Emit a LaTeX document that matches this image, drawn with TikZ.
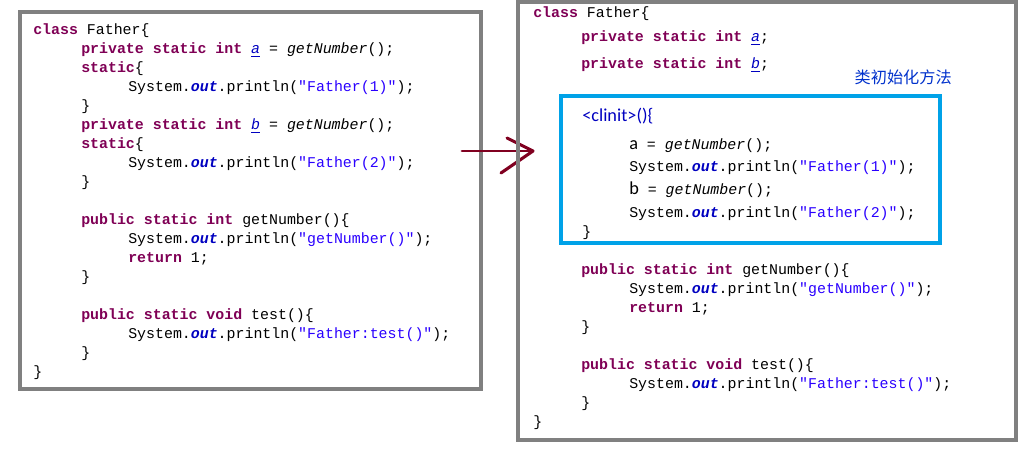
\documentclass[tikz,border=0pt]{standalone}
\usepackage{fontspec}
\setmonofont{Liberation Mono}
\setsansfont{Carlito}
\newfontfamily\cjk{Noto Sans CJK SC}
\usepackage{xcolor}
\definecolor{kwcol}{HTML}{7F0055}
\definecolor{strcol}{HTML}{2A00FF}
\definecolor{fldcol}{HTML}{0000C0}
\definecolor{boxgray}{HTML}{808080}
\definecolor{clblue}{HTML}{00A2E8}
\definecolor{arrowred}{HTML}{800020}
\newcommand{\kw}[1]{\textcolor{kwcol}{\textbf{#1}}}
\newcommand{\str}[1]{\textcolor{strcol}{#1}}
\newcommand{\fld}[1]{\textcolor{fldcol}{\textbf{\textit{#1}}}}
\newcommand{\var}[1]{\textcolor{fldcol}{\underline{\textit{#1}}}}
\newcommand{\mth}[1]{\textit{#1}}
\newcommand{\outln}[1]{System.\fld{out}.println(\str{"#1"});}
\tikzset{
  code/.style={anchor=base west, inner sep=0pt, font=\ttfamily\fontsize{10.6}{12}\selectfont},
  frame/.style={draw=boxgray, line width=2.2pt},
}
\begin{document}
\begin{tikzpicture}[x=0.025cm,y=-0.025cm]
  \useasboundingbox (0,0) rectangle (1033,457);
  % left: source
  \draw[frame] (20,12) rectangle (481,389);
  \node[code](l1) at (33,35) {\kw{class} Father\{};
  \node[code](l2) at (81,54) {\kw{private static int} \var{a} = \mth{getNumber}();};
  \node[code](l3) at (81,73) {\kw{static}\{};
  \node[code](l4) at (128,92) {\outln{Father(1)}};
  \node[code](l5) at (81,111) {\}};
  \node[code](l6) at (81,130) {\kw{private static int} \var{b} = \mth{getNumber}();};
  \node[code](l7) at (81,149) {\kw{static}\{};
  \node[code](l8) at (128,168) {\outln{Father(2)}};
  \node[code](l9) at (81,187) {\}};
  \node[code](l10) at (81,225) {\kw{public static int} getNumber()\{};
  \node[code](l11) at (128,244) {\outln{getNumber()}};
  \node[code](l12) at (128,263) {\kw{return} 1;};
  \node[code](l13) at (81,282) {\}};
  \node[code](l14) at (81,320) {\kw{public static void} test()\{};
  \node[code](l15) at (128,339) {\outln{Father:test()}};
  \node[code](l16) at (81,358) {\}};
  \node[code](l17) at (33,377) {\}};

  % arrow
  \coordinate (as) at (462,151);
  \coordinate (ae) at (531,151);
  \draw[arrowred, line width=2pt, line cap=round] (as) -- (ae);
  \draw[arrowred, line width=2.2pt, line cap=round, line join=round]
    (507,138) -- (533,151) -- (501,173);

  % right: compiled
  \draw[frame] (518,2) rectangle (1016,440);
  \node[code](r1) at (533,18) {\kw{class} Father\{};
  \node[code](r2) at (581,42) {\kw{private static int} \var{a};};
  \node[code](r3) at (581,69) {\kw{private static int} \var{b};};
  \node[anchor=base east, inner sep=0pt, text=fldcol!70!clblue, font=\cjk\fontsize{11.5}{13}\selectfont](lbl) at (952,84) {类初始化方法};
  \draw[clblue, line width=2.5pt] (561,96) rectangle (940,243);
  \node[anchor=base west, inner sep=0pt, text=fldcol, font=\sffamily\fontsize{13}{15}\selectfont](r4) at (582,122) {<clinit>()\{};
  \node[code](r5) at (629,150) {{\sffamily\fontsize{13}{15}\selectfont a} = \mth{getNumber}();};
  \node[code](r6) at (629,172) {\outln{Father(1)}};
  \node[code](r7) at (629,195) {{\sffamily\fontsize{13}{15}\selectfont b} = \mth{getNumber}();};
  \node[code](r8) at (629,218) {\outln{Father(2)}};
  \node[code](r9) at (582,237) {\}};
  \node[code](r10) at (581,275) {\kw{public static int} getNumber()\{};
  \node[code](r11) at (629,294) {\outln{getNumber()}};
  \node[code](r12) at (629,313) {\kw{return} 1;};
  \node[code](r13) at (581,332) {\}};
  \node[code](r14) at (581,370) {\kw{public static void} test()\{};
  \node[code](r15) at (629,389) {\outln{Father:test()}};
  \node[code](r16) at (581,408) {\}};
  \node[code](r17) at (533,427) {\}};
\end{tikzpicture}
\end{document}
